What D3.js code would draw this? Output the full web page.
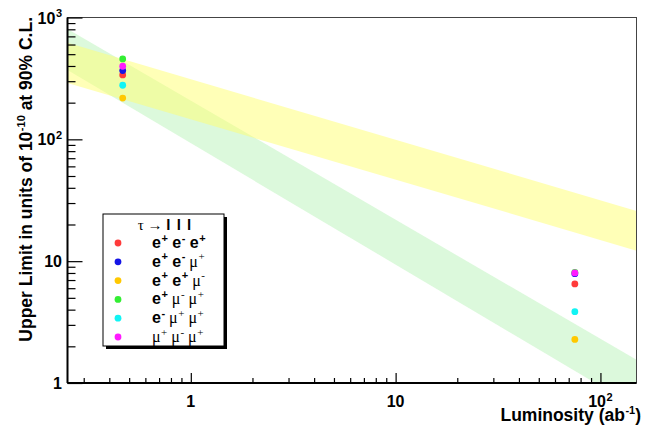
<!DOCTYPE html>
<html>
<head>
<meta charset="utf-8">
<script src="https://cdn.jsdelivr.net/npm/d3@7"></script>
<style>
  body { margin: 0; background: #fff; }
  svg { display: block; font-family: "Liberation Sans", Arial, Helvetica, sans-serif; }
  .lab { font-weight: bold; }
  .sym { font-family: "Liberation Serif", "DejaVu Serif", serif; font-weight: normal; }
</style>
</head>
<body>
<div id="chart"></div>
<script>
// luminosity (ab^-1) of the two points
const lumi = [0.465, 75];

// decay channels, legend order
const channels = ["e+ e- e+", "e+ e- μ+", "e+ e+ μ-", "e+ μ- μ+", "e- μ+ μ+", "μ+ μ- μ+"];
const colors = ["#ff3b3b", "#1414e6", "#ffc800", "#33ee33", "#11f4f4", "#ff1aff"];

// upper limits (10^-10) at each luminosity, one array per channel
const limitsLow = [338, 367, 218, 457, 278, 398];
const limitsHigh = [6.5, 7.9, 2.28, 8.1, 3.85, 8.0];

// bands: edge values at the ends of the luminosity range
const bandLumi = [0.25, 150];
const yellowHi = [620, 25.8];
const yellowLo = [290, 12.2];
const greenHi = [806, 1.55];
const greenLo = [370, 0.63];

const xMajor = [1, 10, 100];
const xMinor = [0.3, 0.4, 0.5, 0.6, 0.7, 0.8, 0.9, 2, 3, 4, 5, 6, 7, 8, 9, 20, 30, 40, 50, 60, 70, 80, 90];
const yMajor = [1, 10, 100, 1000];
const yMinor = [2, 3, 4, 5, 6, 7, 8, 9, 20, 30, 40, 50, 60, 70, 80, 90, 200, 300, 400, 500, 600, 700, 800, 900];
const xTickText = [["1", ""], ["10", ""], ["10", "2"]];
const yTickText = [["1", ""], ["10", ""], ["10", "2"], ["10", "3"]];

const W = 650, H = 428;
const frame = {left: 67.5, right: 636.5, top: 17.5, bottom: 383};

const svg = d3.select("#chart").append("svg").attr("width", W).attr("height", H);

const x = d3.scaleLog().domain([0.25, 150]).range([frame.left, frame.right]);
const y = d3.scaleLog().domain([1, 1000]).range([frame.bottom, frame.top]);

let defs = svg.append("defs");
defs.append("clipPath").attr("id", "plotClip")
    .append("rect")
    .attr("x", frame.left).attr("y", frame.top)
    .attr("width", frame.right - frame.left).attr("height", frame.bottom - frame.top);

let bands = svg.append("g").attr("clip-path", "url(#plotClip)");

// pale see-through fills stand in for the root hatch styles
function band(hi, lo, fill, op) {
    let pts = [[bandLumi[0], hi[0]], [bandLumi[1], hi[1]], [bandLumi[1], lo[1]], [bandLumi[0], lo[0]]];
    bands.append("path")
        .attr("d", d3.line().x(d => x(d[0])).y(d => y(d[1]))(pts) + "Z")
        .attr("fill", fill)
        .attr("fill-opacity", op);
}
band(greenHi, greenLo, "#a2eea2", 0.38);
band(yellowHi, yellowLo, "#ffff70", 0.5);

// frame
svg.append("rect")
    .attr("x", frame.left).attr("y", frame.top)
    .attr("width", frame.right - frame.left).attr("height", frame.bottom - frame.top)
    .attr("fill", "none").attr("stroke", "#444").attr("stroke-width", 1);

// axes, ticks inside
function styleAxis(g) {
    g.select(".domain").remove();
    g.selectAll("line").attr("stroke", "#000").attr("stroke-width", 1.2);
    g.selectAll("text").remove();
}
svg.append("g").attr("transform", "translate(0," + frame.bottom + ")")
    .call(d3.axisBottom(x).tickValues(xMajor).tickSize(-10)).call(styleAxis);
svg.append("g").attr("transform", "translate(0," + frame.bottom + ")")
    .call(d3.axisBottom(x).tickValues(xMinor).tickSize(-5)).call(styleAxis);
svg.append("g").attr("transform", "translate(" + frame.left + ",0)")
    .call(d3.axisLeft(y).tickValues(yMajor).tickSize(-15)).call(styleAxis);
svg.append("g").attr("transform", "translate(" + frame.left + ",0)")
    .call(d3.axisLeft(y).tickValues(yMinor).tickSize(-8)).call(styleAxis);

svg.append("line").attr("x1", frame.left).attr("x2", frame.right)
    .attr("y1", frame.bottom).attr("y2", frame.bottom)
    .attr("stroke", "#000").attr("stroke-width", 2);
svg.append("line").attr("x1", frame.left).attr("x2", frame.left)
    .attr("y1", frame.top).attr("y2", frame.bottom)
    .attr("stroke", "#000").attr("stroke-width", 2);

// text made of pieces: [string, superscript?, class]
function rich(t, pieces, size, supSize) {
    let up = false;
    pieces.forEach(p => {
        let s = t.append("tspan").text(p[0]);
        if (p[2]) s.attr("class", p[2]);
        if (p[1] && !up) { s.attr("dy", -size * 0.4).attr("dx", 0.5); up = true; }
        else if (!p[1] && up) { s.attr("dy", size * 0.4); up = false; }
        if (p[1]) s.attr("font-size", supSize);
    });
}

// tick labels
xMajor.forEach((v, i) => {
    let t = svg.append("text").attr("class", "lab").attr("font-size", 16)
        .attr("x", x(v)).attr("y", 407).attr("text-anchor", "middle");
    rich(t, [[xTickText[i][0], false], [xTickText[i][1], true]], 16, 11);
});
yMajor.forEach((v, i) => {
    let t = svg.append("text").attr("class", "lab").attr("font-size", 16)
        .attr("x", 62).attr("y", y(v) + 6).attr("text-anchor", "end");
    rich(t, [[yTickText[i][0], false], [yTickText[i][1], true]], 16, 11);
});

// axis titles
let xt = svg.append("text").attr("class", "lab").attr("font-size", 17.5)
    .attr("x", 641).attr("y", 421).attr("text-anchor", "end");
rich(xt, [["Luminosity (ab", false], ["-1", true], [")", false]], 17.5, 11);

let yt = svg.append("text").attr("class", "lab").attr("font-size", 17.5)
    .attr("text-anchor", "end")
    .attr("transform", "translate(32,17) rotate(-90)");
rich(yt, [["Upper Limit in units of 10", false], ["-10", true], [" at 90% C.L.", false]], 17.5, 11);

// points
let points = [];
channels.forEach((c, i) => {
    points.push({l: lumi[0], v: limitsLow[i], col: colors[i]});
});
channels.forEach((c, i) => {
    points.push({l: lumi[1], v: limitsHigh[i], col: colors[i]});
});
svg.append("g").selectAll("circle")
    .data(points).enter().append("circle")
    .attr("cx", d => x(d.l))
    .attr("cy", d => y(d.v))
    .attr("r", 3.4)
    .attr("fill", d => d.col);

// legend
let lg = svg.append("g");
lg.append("rect").attr("x", 106).attr("y", 217).attr("width", 121).attr("height", 132).attr("fill", "#000");
lg.append("rect").attr("x", 103).attr("y", 214).attr("width", 121).attr("height", 132)
    .attr("fill", "#fff").attr("stroke", "#000").attr("stroke-width", 1);

let title = lg.append("text").attr("x", 165).attr("y", 230).attr("text-anchor", "middle").attr("font-size", 15);
title.append("tspan").attr("class", "sym").text("τ → ");
title.append("tspan").attr("class", "lab").attr("letter-spacing", 1).text("l l l");

let row = d3.scalePoint().domain(channels).range([243, 337]);

channels.forEach((c, i) => {
    lg.append("circle").attr("cx", 118).attr("cy", row(c)).attr("r", 3.4).attr("fill", colors[i]);
    let t = lg.append("text").attr("x", 152).attr("y", row(c) + 5).attr("font-size", 16);
    let pieces = [];
    c.split(" ").forEach((p, k) => {
        let base = p.slice(0, -1), sign = p.slice(-1);
        let cls = base === "e" ? "lab" : "sym";
        pieces.push([(k ? " " : "") + base, false, cls]);
        pieces.push([sign === "-" ? "-" : "+", true, cls]);
    });
    rich(t, pieces, 16, 11);
});
</script>
</body>
</html>
